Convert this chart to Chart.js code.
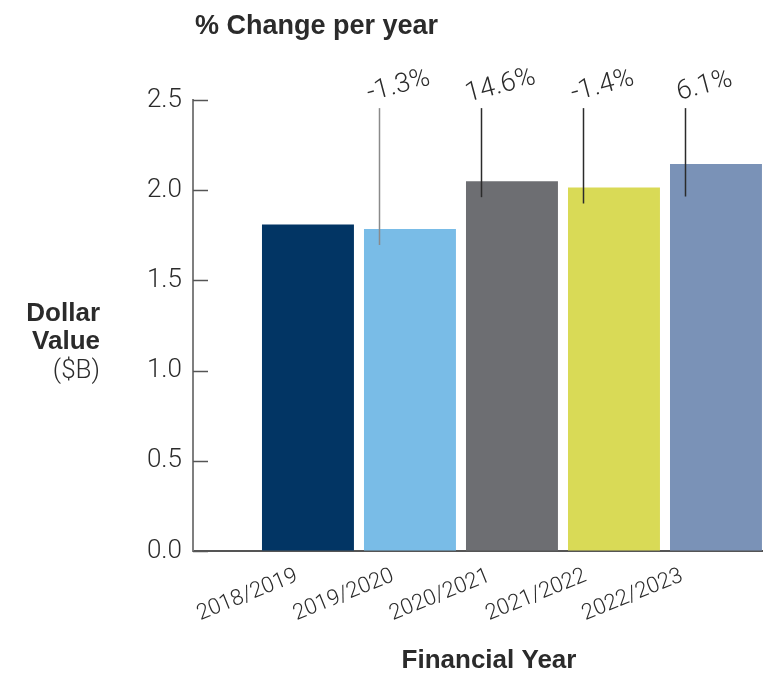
<!DOCTYPE html>
<html>
<head>
<meta charset="utf-8">
<script src="https://cdn.jsdelivr.net/npm/chart.js@4.4.1/dist/chart.umd.min.js"></script>
<style>
  html, body { margin: 0; padding: 0; background: #fff; }
  #wrap { width: 763px; height: 673px; }
</style>
</head>
<body>
<div id="wrap"><canvas id="valueChart"></canvas></div>
<script>
const years = ['2018/2019', '2019/2020', '2020/2021', '2021/2022', '2022/2023'];
const dollarValues = [1.81, 1.785, 2.05, 2.015, 2.145];   // $B
const changeLabels = ['', '-1.3%', '14.6%', '-1.4%', '6.1%'];
const barColors = ['#023564', '#79bce7', '#6d6e72', '#d9da56', '#7a92b7'];

const FONT = "Roboto, 'Liberation Sans', Arial, sans-serif";
const BOLD = "'Liberation Sans', Arial, sans-serif";
const TEXT = '#2b2b2b';

// short tick marks pointing into the plot from the y axis
const innerTicks = {
    id: 'innerTicks',
    beforeDatasetsDraw(chart) {
        const { ctx, scales: { y } } = chart;
        ctx.save();
        ctx.strokeStyle = '#555';
        ctx.lineWidth = 1.5;
        y.ticks.forEach(t => {
            const py = Math.round(y.getPixelForValue(t.value)) + 0.5;
            ctx.beginPath();
            ctx.moveTo(y.right, py);
            ctx.lineTo(y.right + 15, py);
            ctx.stroke();
        });
        ctx.restore();
    }
};

// % change callouts above the bars
const changeNotes = {
    id: 'changeNotes',
    afterDatasetsDraw(chart) {
        const { ctx, scales: { x, y } } = chart;
        ctx.save();
        changeLabels.forEach((label, i) => {
            if (!label) return;
            const lx = Math.round(x.getPixelForValue(i - 0.3)) + 0.5;
            const top = y.getPixelForValue(2.455);
            const bottom = Math.max(y.getPixelForValue(1.965), y.getPixelForValue(dollarValues[i]) + 16);
            ctx.strokeStyle = i === 1 ? '#8a8a8a' : '#2b2b2b';
            ctx.lineWidth = 1.5;
            ctx.beginPath();
            ctx.moveTo(lx, top);
            ctx.lineTo(lx, bottom);
            ctx.stroke();

            ctx.translate(lx + 19, top - 22);
            ctx.rotate(-15 * Math.PI / 180);
            ctx.font = '300 27px ' + FONT;
            ctx.fillStyle = TEXT;
            ctx.textAlign = 'center';
            ctx.textBaseline = 'middle';
            ctx.fillText(label, 0, 0);
            ctx.setTransform(1, 0, 0, 1, 0, 0);
        });
        ctx.restore();
    }
};

// titles
const titles = {
    id: 'titles',
    afterDraw(chart) {
        const { ctx, chartArea } = chart;
        const midY = (chartArea.top + chartArea.bottom) / 2;
        ctx.save();
        ctx.fillStyle = TEXT;
        ctx.textBaseline = 'alphabetic';

        ctx.textAlign = 'left';
        ctx.font = 'bold 27px ' + BOLD;
        ctx.fillText('% Change per year', chartArea.left + 2, 34);

        ctx.font = 'bold 26px ' + BOLD;
        ctx.textAlign = 'right';
        ctx.fillText('Dollar', 100, midY - 5);
        ctx.fillText('Value', 100, midY + 23);
        ctx.font = '300 26px ' + FONT;
        ctx.fillText('($B)', 100, midY + 52);

        ctx.textAlign = 'center';
        ctx.font = 'bold 26px ' + BOLD;
        ctx.fillText('Financial Year', (chartArea.left + chartArea.right) / 2 + 11, 668);
        ctx.restore();
    }
};

const ctx = document.getElementById('valueChart').getContext('2d');
const chart = new Chart(ctx, {
    type: 'bar',
    data: {
        datasets: [{
            data: dollarValues.map((v, i) => ({ x: i, y: v })),
            backgroundColor: barColors,
            borderWidth: 0,
            categoryPercentage: 1,
            barPercentage: 0.955
        }]
    },
    options: {
        responsive: true,
        maintainAspectRatio: false,
        animation: false,
        layout: { padding: { top: 100, left: 0, right: 0, bottom: 0 } },
        plugins: {
            legend: { display: false },
            tooltip: { enabled: false }
        },
        scales: {
            x: {
                type: 'linear',
                min: -1.127,
                max: 4.461,
                offset: false,
                // the rotated year labels sit a little left of their bars and drift further left
                afterBuildTicks: scale => {
                    scale.ticks = years.map((_, i) => ({ value: i * 0.944 - 0.11 }));
                },
                afterFit: scale => { scale.height = 122; },
                grid: { display: true, drawOnChartArea: false, drawTicks: false, offset: false },
                border: { display: true, color: '#555', width: 2 },
                ticks: {
                    autoSkip: false,
                    minRotation: 22,
                    maxRotation: 22,
                    padding: 12,
                    color: TEXT,
                    font: { family: FONT, size: 22, weight: '300' },
                    callback: (v, i) => years[i]
                }
            },
            y: {
                min: 0,
                max: 2.5,
                afterFit: scale => { scale.width = 193; },
                grid: { display: true, drawOnChartArea: false, drawTicks: false },
                border: { display: true, color: '#7f7f7f', width: 2 },
                ticks: {
                    stepSize: 0.5,
                    padding: 11,
                    color: TEXT,
                    font: { family: FONT, size: 26, weight: '300' },
                    callback: v => v.toFixed(1)
                }
            }
        }
    },
    plugins: [innerTicks, changeNotes, titles]
});
</script>
</body>
</html>
